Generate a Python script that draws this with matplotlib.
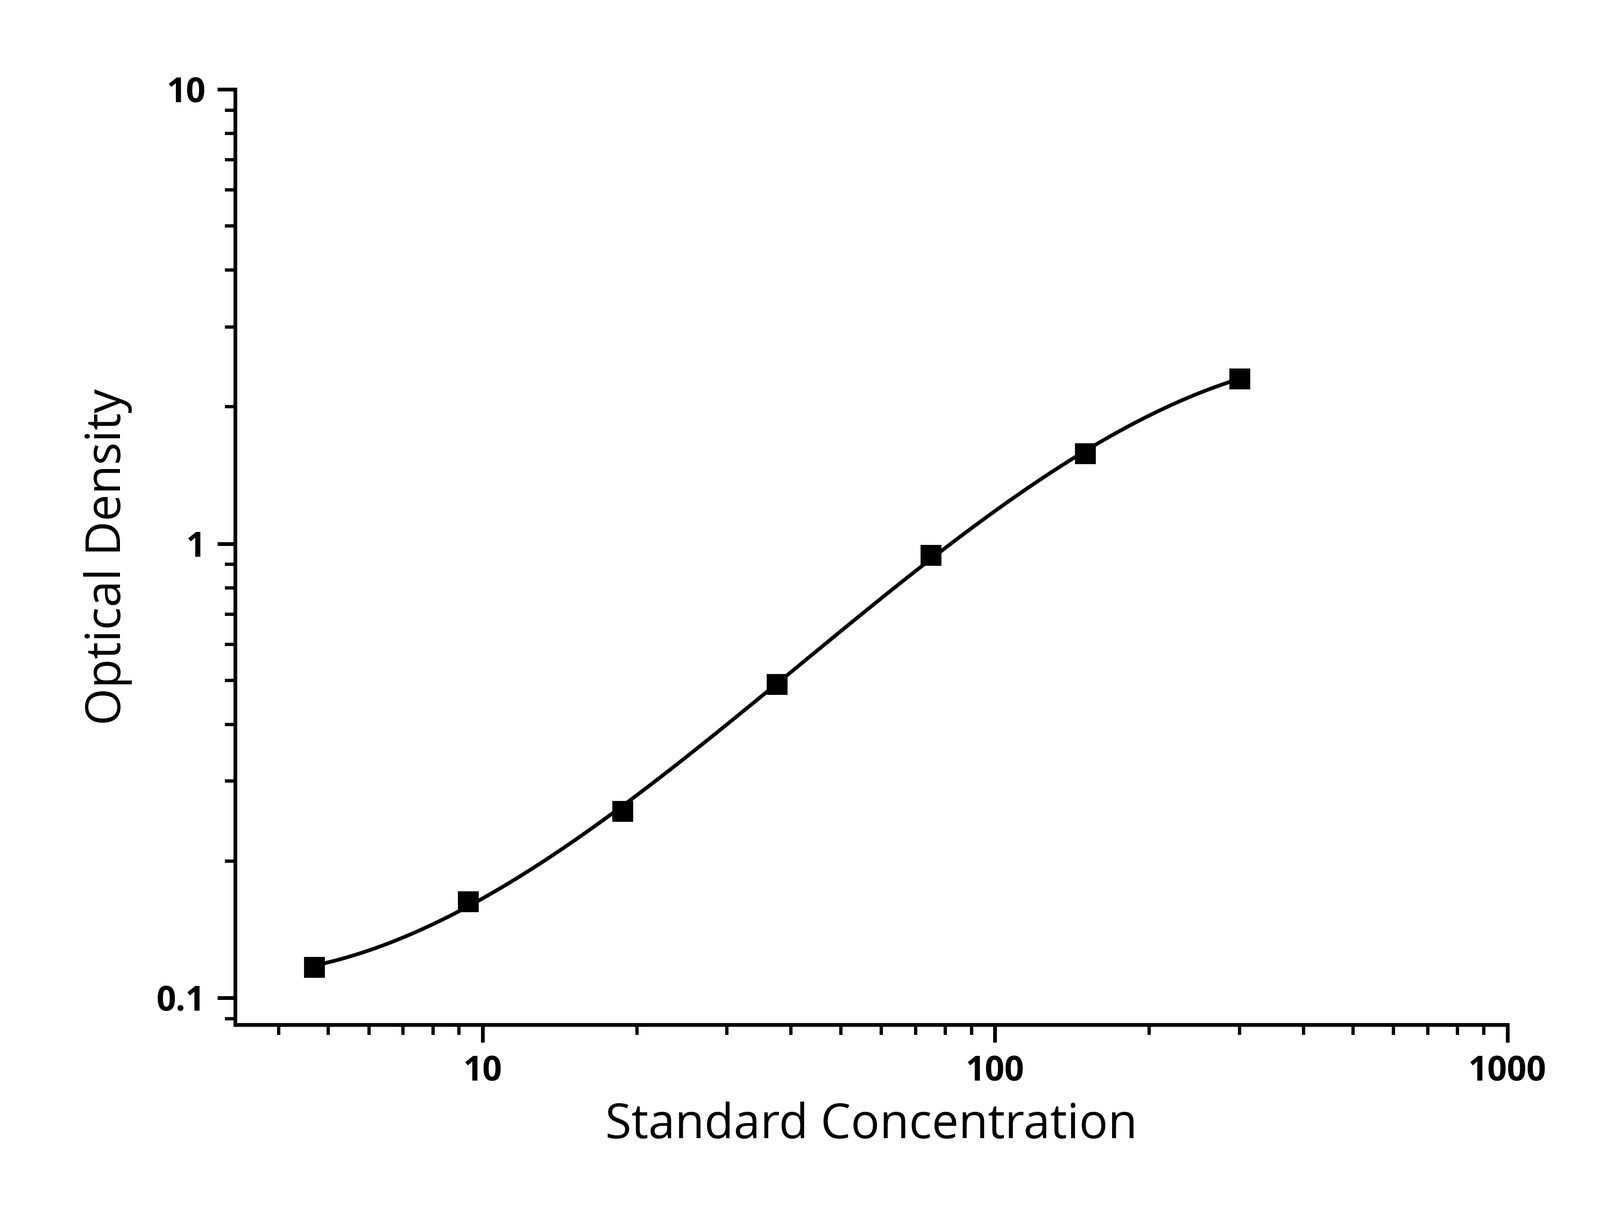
import numpy as np
import matplotlib
matplotlib.use("Agg")
import matplotlib.pyplot as plt
from matplotlib.ticker import LogLocator, NullFormatter, FixedLocator, FixedFormatter

conc = [4.6875, 9.375, 18.75, 37.5, 75, 150, 300]
od = [0.117, 0.163, 0.258, 0.49, 0.944, 1.58, 2.31]
xticks = [10, 100, 1000]
xtick_labels = ["10", "100", "1000"]
yticks = [0.1, 1, 10]
ytick_labels = ["0.1", "1", "10"]

plt.rcParams["font.family"] = "Open Sans"

fig = plt.figure(figsize=(14.87, 11.22), dpi=200)
ax = fig.add_axes([0.147, 0.151, 0.795, 0.775])

# smooth fit in log-log space
lx, ly = np.log10(conc), np.log10(od)
coef = np.polyfit(lx, ly, 3)
xs = np.linspace(lx[0], lx[-1], 300)
ax.plot(10 ** xs, 10 ** np.polyval(coef, xs), color="black", lw=2.5, zorder=2)
ax.plot(conc, od, "s", color="black", ms=13, zorder=3)

ax.set_xscale("log")
ax.set_yscale("log")
ax.set_xlim(3.29, 1000)
ax.set_ylim(0.0873, 10)

ax.xaxis.set_major_locator(FixedLocator(xticks))
ax.xaxis.set_major_formatter(FixedFormatter(xtick_labels))
ax.yaxis.set_major_locator(FixedLocator(yticks))
ax.yaxis.set_major_formatter(FixedFormatter(ytick_labels))
for axis in (ax.xaxis, ax.yaxis):
    axis.set_minor_locator(LogLocator(base=10, subs=np.arange(2, 10)))
    axis.set_minor_formatter(NullFormatter())

for s in ("top", "right"):
    ax.spines[s].set_visible(False)
for s in ("left", "bottom"):
    ax.spines[s].set_linewidth(2.5)
ax.tick_params(which="major", direction="out", length=12, width=2.5, labelsize=23, pad=8)
ax.tick_params(which="minor", direction="out", length=7, width=2.2)
for lab in ax.get_xticklabels() + ax.get_yticklabels():
    lab.set_fontweight("bold")

ax.set_xlabel("Standard Concentration", fontsize=32, labelpad=8)
ax.set_ylabel("Optical Density", fontsize=32, labelpad=16)

fig.savefig("out.png", dpi=200)
